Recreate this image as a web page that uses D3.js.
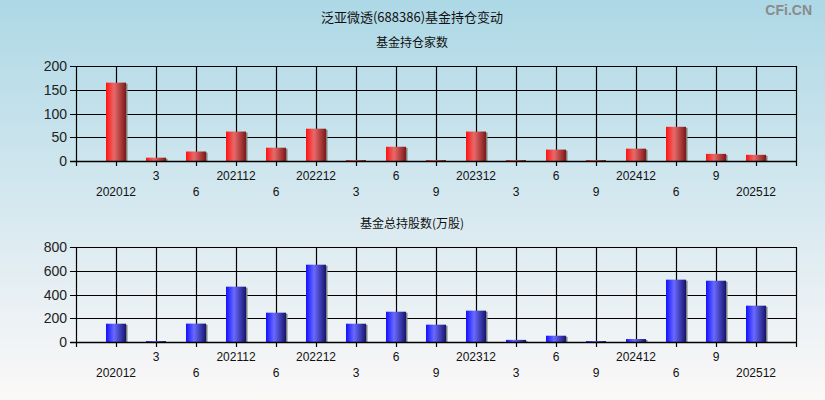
<!DOCTYPE html>
<html><head><meta charset="utf-8">
<script src="https://cdn.jsdelivr.net/npm/d3@7/dist/d3.min.js"></script>
<style>body{margin:0;padding:0;overflow:hidden}svg{display:block}</style>
</head><body>
<script>
const categories = ["202012","3","6","202112","6","202212","3","6","9","202312","3","6","9","202412","6","9","202512"];
const fundCount = [165,7,20,62,28,68,2,30,2,62,2,24,2,26,72,15,13];
const fundShares = [154,8,155,466,247,651,154,255,146,264,18,53,8,25,525,516,306];
const countTicks = [0,50,100,150,200];
const shareTicks = [0,200,400,600,800];

const W = 825, H = 400;
const svg = d3.select("body").append("svg").attr("width", W).attr("height", H);
const defs = svg.append("defs");
const bg = defs.append("linearGradient").attr("id","bg").attr("x1",0).attr("y1",0).attr("x2",0).attr("y2",1);
bg.append("stop").attr("offset","0%").attr("stop-color","#add8e6");
bg.append("stop").attr("offset","100%").attr("stop-color","#fcf8f8");
svg.append("rect").attr("width",W).attr("height",H).attr("fill","url(#bg)");

function barGrad(id, c0, c1, c2) {
  const g = defs.append("linearGradient").attr("id",id).attr("x1",0).attr("y1",0).attr("x2",1).attr("y2",0);
  g.append("stop").attr("offset","0%").attr("stop-color",c0);
  g.append("stop").attr("offset","40%").attr("stop-color",c1);
  g.append("stop").attr("offset","100%").attr("stop-color",c2);
}
barGrad("gRed","#ff1010","#e86a6a","#7e1818");
barGrad("gBlue","#1010ff","#6a6aff","#15156e");

const font = "'Noto Sans CJK SC', sans-serif";
svg.append("text").attr("x",412).attr("y",22).attr("text-anchor","middle")
  .attr("font-family",font).attr("font-size",13).attr("fill","#111").text("泛亚微透(688386)基金持仓变动");
svg.append("text").attr("x",812).attr("y",15).attr("text-anchor","end")
  .attr("font-family","Arial, sans-serif").attr("font-size",14).attr("fill","#8a8a8a").attr("font-weight","bold").text("CFi.CN");

const x = d3.scaleBand().domain(d3.range(categories.length)).range([76,796]).paddingInner(0).paddingOuter(0.5);

function panel(title, titleY, top, bottom, values, ticks, grad) {
  svg.append("text").attr("x",412).attr("y",titleY).attr("text-anchor","middle")
    .attr("font-family",font).attr("font-size",12).attr("fill","#111").text(title);
  const y = d3.scaleLinear().domain([0, ticks[ticks.length-1]]).range([bottom, top]);
  const g = svg.append("g");
  g.selectAll("line.h").data(ticks).join("line")
    .attr("x1",70).attr("x2",796).attr("y1",d=>Math.round(y(d))+0.5).attr("y2",d=>Math.round(y(d))+0.5)
    .attr("stroke","#000").attr("stroke-width",1.2);
  const vx = [76].concat(categories.map((c,i)=>x(i)+x.bandwidth()/2)).concat([796]);
  g.selectAll("line.v").data(vx).join("line")
    .attr("x1",d=>Math.round(d)+0.5).attr("x2",d=>Math.round(d)+0.5)
    .attr("y1",Math.round(y(ticks[ticks.length-1]))).attr("y2",Math.round(bottom)+5)
    .attr("stroke","#000").attr("stroke-width",1.2);
  g.selectAll("text.yl").data(ticks).join("text")
    .attr("x",67).attr("y",d=>y(d)+5).attr("text-anchor","end")
    .attr("font-family","Arial, 'Liberation Sans', sans-serif").attr("font-size",14).attr("fill","#222").text(d=>d);
  const bw = 20;
  g.selectAll("rect.sh").data(values).join("rect")
    .attr("x",(d,i)=>x(i)+x.bandwidth()/2-bw/2+1.5).attr("width",bw)
    .attr("y",d=>y(d)+1).attr("height",d=>Math.max(0,bottom-y(d)-1)).attr("fill","#808080");
  g.selectAll("rect.b").data(values).join("rect")
    .attr("x",(d,i)=>x(i)+x.bandwidth()/2-bw/2).attr("width",bw)
    .attr("y",d=>y(d)).attr("height",d=>Math.max(1,bottom-y(d))).attr("fill",`url(#${grad})`);
  g.append("line").attr("x1",70).attr("x2",796).attr("y1",Math.round(bottom)+0.5).attr("y2",Math.round(bottom)+0.5)
    .attr("stroke","#000").attr("stroke-width",1.5);
  g.selectAll("text.xl").data(categories).join("text")
    .attr("x",(d,i)=>x(i)+x.bandwidth()/2).attr("y",(d,i)=> i%2===1 ? bottom+19 : bottom+35)
    .attr("text-anchor","middle").attr("font-family","Arial, 'Liberation Sans', sans-serif")
    .attr("font-size",12).attr("fill","#111").text(d=>d);
}
panel("基金持仓家数", 47, 66, 161, fundCount, countTicks, "gRed");
panel("基金总持股数(万股)", 228, 247, 342, fundShares, shareTicks, "gBlue");
</script>
</body></html>
